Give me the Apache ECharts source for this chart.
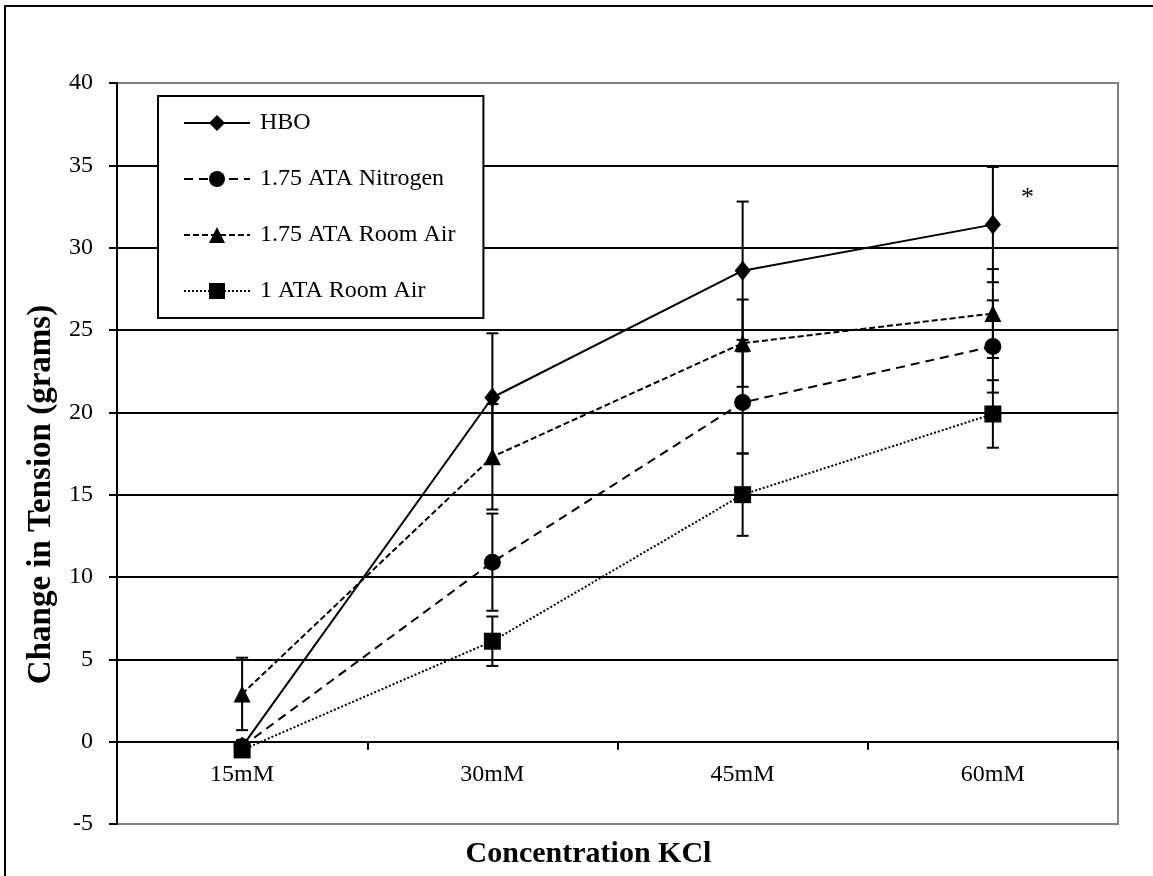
<!DOCTYPE html>
<html>
<head>
<meta charset="utf-8">
<title>Change in Tension vs KCl concentration</title>
<script src="https://cdn.jsdelivr.net/npm/echarts@6/dist/echarts.min.js"></script>
<style>
  html, body { margin: 0; padding: 0; background: #fff; }
  #chart { width: 1153px; height: 876px; }
</style>
</head>
<body>
<div id="chart"></div>
<script>
// KCl concentrations on the x axis
const categories = ['15mM', '30mM', '45mM', '60mM'];

// Mean change in tension (grams) and error half-widths per group
const hbo = [-0.3, 20.9, 28.6, 31.4];
const hboErr = [0.4, 3.9, 4.2, 3.5];

const nitrogen175 = [-0.3, 10.9, 20.6, 24.0];
const nitrogen175Err = [0.4, 2.95, 3.1, 2.8];

const roomAir175 = [2.9, 17.3, 24.2, 26.0];
const roomAir175Err = [2.2, 3.2, 2.65, 2.7];

const roomAir1 = [-0.5, 6.1, 15.0, 19.9];
const roomAir1Err = [0.4, 1.5, 2.5, 2.05];

// Y axis ticks
const yMin = -5, yMax = 40, yStep = 5;

const FONT = "'Liberation Serif', 'Times New Roman', serif";

// plot area in pixels
const GRID = { left: 117, right: 35, top: 83, bottom: 52 };
const plotHeight = 876 - GRID.top - GRID.bottom;
// the category axis sits on the zero line: shift it up from the bottom edge
const zeroShift = plotHeight * (0 - yMin) / (yMax - yMin);

const chart = echarts.init(document.getElementById('chart'), null, { renderer: 'canvas' });

function errorSeries(values, errs, z) {
  return {
    type: 'custom',
    silent: true,
    z: z,
    data: values.map((v, i) => [i, v, errs[i]]),
    renderItem: function (params, api) {
      const x = api.value(0), y = api.value(1), e = api.value(2);
      const top = api.coord([x, y + e]);
      const bot = api.coord([x, y - e]);
      const cap = 6;
      const style = { stroke: '#000', lineWidth: 2 };
      return {
        type: 'group',
        children: [
          { type: 'line', shape: { x1: top[0], y1: top[1], x2: bot[0], y2: bot[1] }, style: style },
          { type: 'line', shape: { x1: top[0] - cap, y1: top[1], x2: top[0] + cap, y2: top[1] }, style: style },
          { type: 'line', shape: { x1: bot[0] - cap, y1: bot[1], x2: bot[0] + cap, y2: bot[1] }, style: style }
        ]
      };
    }
  };
}

function lineSeries(name, values, symbol, size, dash, z) {
  return {
    name: name,
    type: 'line',
    data: values,
    symbol: symbol,
    symbolSize: size,
    showAllSymbol: true,
    z: z,
    lineStyle: { color: '#000', width: 2, type: dash },
    itemStyle: { color: '#000', borderWidth: 0 },
    emphasis: { disabled: true },
    animation: false
  };
}

const hboLine = lineSeries('HBO', hbo, 'diamond', [16, 20], 'solid', 10);
// significance marker beside the 60mM HBO point
hboLine.data = hbo.map((v, i) => i === 3 ? {
  value: v,
  label: { show: true, formatter: '*', position: [36, -29], fontSize: 26, fontFamily: FONT, color: '#000' }
} : v);

const option = {
  animation: false,
  backgroundColor: '#fff',
  textStyle: { fontFamily: FONT, color: '#000' },
  graphic: [{
    type: 'rect',
    shape: { x: 5, y: 6, width: 1160, height: 900 },
    style: { fill: 'none', stroke: '#000', lineWidth: 2 },
    z: -10,
    silent: true
  }],
  grid: {
    left: GRID.left, right: GRID.right, top: GRID.top, bottom: GRID.bottom,
    containLabel: false,
    outerBoundsMode: 'none',
    show: true, borderColor: '#808080', borderWidth: 2, backgroundColor: 'transparent'
  },
  legend: {
    orient: 'vertical',
    left: 158, top: 96,
    padding: [15, 28, 15, 25],
    itemGap: 32,
    itemWidth: 66, itemHeight: 20,
    backgroundColor: '#fff',
    borderColor: '#000', borderWidth: 2,
    textStyle: { fontFamily: FONT, fontSize: 24, color: '#000', padding: [0, 0, 0, 5] },
    data: ['HBO', '1.75 ATA Nitrogen', '1.75 ATA Room Air', '1 ATA Room Air'],
    selectedMode: false
  },
  xAxis: {
    type: 'category',
    data: categories,
    boundaryGap: true,
    position: 'bottom',
    offset: -zeroShift,
    axisLine: { onZero: false, lineStyle: { color: '#000', width: 2 } },
    axisTick: { show: true, length: 8, lineStyle: { color: '#000', width: 2 } },
    axisLabel: { fontFamily: FONT, fontSize: 24, color: '#000', margin: 21 },
    splitLine: { show: false },
    name: 'Concentration KCl',
    nameLocation: 'middle',
    nameMoveOverlap: false,
    nameGap: 98,
    nameTextStyle: { fontFamily: FONT, fontSize: 30, fontWeight: 'bold', color: '#000', padding: [0, 58, 0, 0] }
  },
  yAxis: {
    type: 'value',
    min: yMin, max: yMax, interval: yStep,
    axisLine: { show: true, lineStyle: { color: '#000', width: 2 } },
    axisTick: { show: true, length: 8, lineStyle: { color: '#000', width: 2 } },
    axisLabel: { fontFamily: FONT, fontSize: 24, color: '#000', margin: 24 },
    splitLine: { show: true, showMinLine: false, showMaxLine: false, lineStyle: { color: '#000', width: 2 } },
    name: 'Change in Tension (grams)',
    nameLocation: 'middle',
    nameRotate: 90,
    nameGap: 59,
    nameTextStyle: { fontFamily: FONT, fontSize: 33, fontWeight: 'bold', color: '#000', padding: [0, 82, 0, 0] }
  },
  series: [
    errorSeries(hbo, hboErr, 2),
    errorSeries(nitrogen175, nitrogen175Err, 2),
    errorSeries(roomAir175, roomAir175Err, 2),
    errorSeries(roomAir1, roomAir1Err, 2),
    hboLine,
    lineSeries('1.75 ATA Nitrogen', nitrogen175, 'circle', 17, [9, 6], 11),
    lineSeries('1.75 ATA Room Air', roomAir175, 'triangle', 17, [6, 3], 12),
    lineSeries('1 ATA Room Air', roomAir1, 'rect', 17, [2, 2], 13)
  ]
};

chart.setOption(option);
</script>
</body>
</html>
